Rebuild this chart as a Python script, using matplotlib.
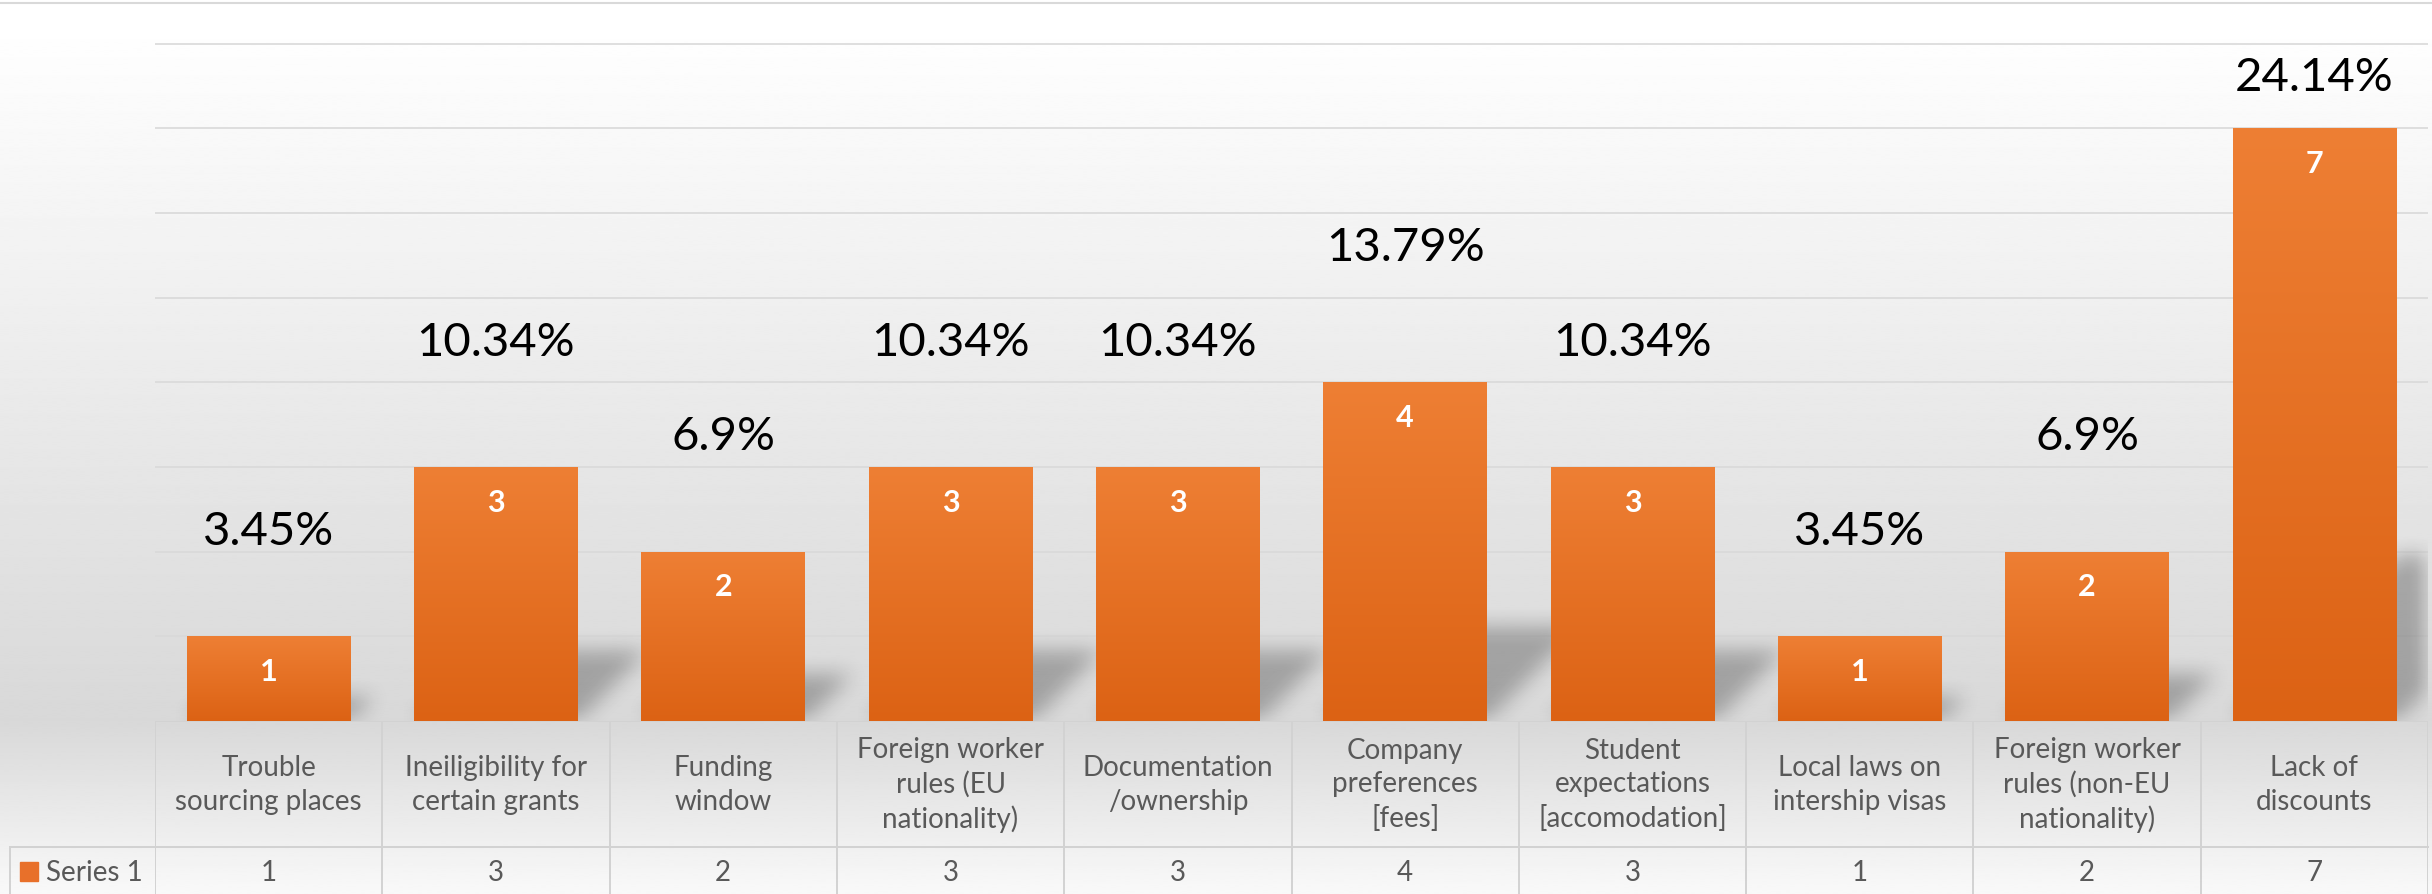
import matplotlib.pyplot as plt
import numpy as np
from matplotlib.colors import LinearSegmentedColormap
from matplotlib.patches import Rectangle
from matplotlib.lines import Line2D

plt.rcParams['font.family'] = ['Lato', 'DejaVu Sans']

categories = [
    'Trouble\nsourcing places',
    'Ineiligibility for\ncertain grants',
    'Funding\nwindow',
    'Foreign worker\nrules (EU\nnationality)',
    'Documentation\n/ownership',
    'Company\npreferences\n[fees]',
    'Student\nexpectations\n[accomodation]',
    'Local laws on\nintership visas',
    'Foreign worker\nrules (non-EU\nnationality)',
    'Lack of\ndiscounts',
]
counts = [1, 3, 2, 3, 3, 4, 3, 1, 2, 7]
percents = [3.45, 10.34, 6.9, 10.34, 10.34, 13.79, 10.34, 3.45, 6.9, 24.14]
series_name = 'Series 1'

W, H = 2432, 895
fig = plt.figure(figsize=(W / 100, H / 100), dpi=100)

# background gradient (white at top, grey at the axis, lighter again in table)
bg = fig.add_axes([0, 0, 1, 1], zorder=-10)
rows = np.linspace(0, H, 500)
gray = np.interp(rows, [0, 40, 722, 895], [255, 254, 216, 249]) / 255
bg.imshow(np.repeat(gray[:, None], 2, axis=1), cmap='gray', vmin=0, vmax=1,
          aspect='auto', extent=[0, 1, 0, 1], interpolation='bilinear')
bg.axis('off')
fig.add_artist(Line2D([0, 1], [1 - 4 / H] * 2, color='#d9d9d9', lw=1.5))

# plot area
left_px, right_px, base_px, top_px = 155, 2428, 722, 44
x0, x1 = left_px / W, right_px / W
ax = fig.add_axes([x0, (H - base_px) / H, x1 - x0, (base_px - top_px) / H])
ax.patch.set_alpha(0)
for s in ax.spines.values():
    s.set_visible(False)

x = np.arange(len(categories))
bw = 0.72

# soft perspective shadows behind the bars
nx, ny = right_px - left_px, base_px - top_px
ux, uy = nx / 10, ny / 8
PX, PY = np.meshgrid(np.arange(nx) + 0.5, np.arange(ny) + 0.5)
mask = np.zeros((ny, nx))
for xi, c in zip(x, counts):
    xl = (xi - bw / 2 + 0.5) * ux
    xr = (xi + bw / 2 + 0.5) * ux
    sh = 0.28 * c * uy
    mask[(PY <= sh) & (PX >= xl + PY) & (PX <= xr + PY)] = 1


def blur(a, r, axis):
    k = np.ones(2 * r + 1) / (2 * r + 1)
    return np.apply_along_axis(lambda v: np.convolve(v, k, mode='same'), axis, a)


for _ in range(2):
    mask = blur(mask, 11, 1)
    mask = blur(mask, 11, 0)
shadow = np.zeros((ny, nx, 4))
shadow[..., 3] = 0.26 * mask
ax.imshow(shadow, extent=[-0.5, 9.5, 0, 8], origin='lower', aspect='auto',
          zorder=1, interpolation='bilinear')

# bars with vertical gradient
bars = ax.bar(x, counts, width=bw, color='none', zorder=3)
orange = LinearSegmentedColormap.from_list('orange', ['#DC6214', '#EE7F34'])
grad = np.linspace(0, 1, 256)[:, None]
for b, c in zip(bars, counts):
    im = ax.imshow(grad, cmap=orange, origin='lower', aspect='auto', zorder=3,
                   extent=[b.get_x(), b.get_x() + b.get_width(), 0, c])
    im.set_clip_path(b)
    ax.text(b.get_x() + b.get_width() / 2, c - 0.41, str(c), ha='center',
            va='center', color='white', fontsize=22, fontweight='bold', zorder=5)
ax.set_xlim(-0.5, 9.5)
ax.set_ylim(0, 8.01)

# percentage labels (secondary axis)
ax2 = ax.twinx()
ax2.set_ylim(-3.46, 21.22)
ax2.axis('off')
for xi, p in zip(x, percents):
    ax2.text(xi, min(p, 20.0), f'{p:g}%', ha='center', va='center',
             fontsize=34, color='black')

# gridlines only, no ticks (after twinx, which turns left ticks back on)
ax.set_yticks(np.arange(1, 9))
ax.set_xticks([])
ax.tick_params(left=False, right=False, labelleft=False, bottom=False,
               labelbottom=False, length=0)
ax.grid(axis='y', color='#d9d9d9', lw=1.2, zorder=0)
ax.set_axisbelow(True)

# data table
tab = fig.add_axes([x0, 0, x1 - x0, (H - base_px) / H])
tab.set_xlim(-0.5, 9.5)
tab.set_ylim(0, H - base_px)
tab.axis('off')
line_c = '#d2d2d2'
row_y = H - 848
for b in np.arange(-0.5, 10):
    tab.plot([b, b], [0, H - base_px], color=line_c, lw=1.4)
tab.plot([-0.5, 9.5], [H - base_px] * 2, color=line_c, lw=1.4)
cell_left = -0.5 - (left_px - 10) / ux
tab.plot([cell_left, 9.5], [row_y, row_y], color=line_c, lw=1.4, clip_on=False)
tab.plot([cell_left, cell_left], [0, row_y], color=line_c, lw=1.4, clip_on=False)
for xi, lab, c in zip(x, categories, counts):
    tab.text(xi, H - 785, lab, ha='center', va='center', fontsize=20,
             color='#595959', linespacing=1.35)
    tab.text(xi, H - 873, str(c), ha='center', va='center', fontsize=20,
             color='#595959')
fig.add_artist(Rectangle((20 / W, 13 / H), 18 / W, 19 / H,
                         transform=fig.transFigure, color='#E8702A'))
fig.text(46 / W, 22 / H, series_name, ha='left', va='center', fontsize=20,
         color='#595959')

fig.savefig('out.png', dpi=100)
